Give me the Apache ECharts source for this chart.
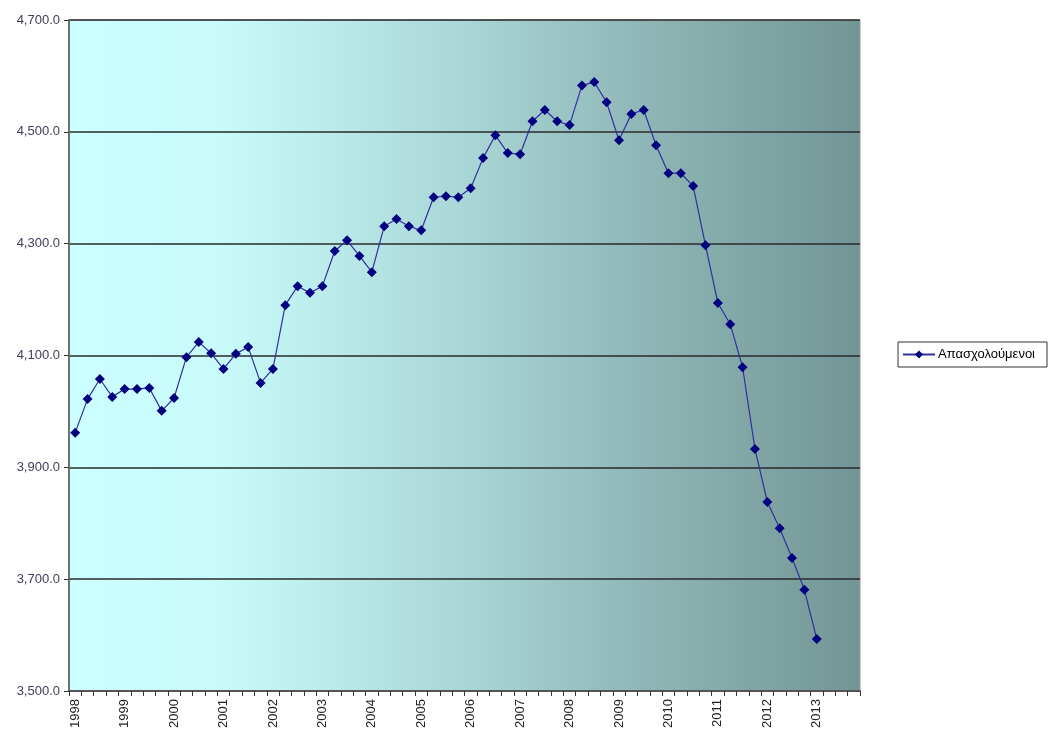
<!DOCTYPE html>
<html>
<head>
<meta charset="utf-8">
<script src="https://cdn.jsdelivr.net/npm/echarts@6/dist/echarts.min.js"></script>
<style>
  html, body { margin: 0; padding: 0; background: #ffffff; }
  #chart { width: 1051px; height: 736px; }
</style>
</head>
<body>
<div id="chart"></div>
<script>
// Quarterly periods 1998 Q1 – 2013 Q4 (the last quarters are still empty)
const years = ['1998','1999','2000','2001','2002','2003','2004','2005',
               '2006','2007','2008','2009','2010','2011','2012','2013'];
const quarters = ['Q1','Q2','Q3','Q4'];

// Employed persons (thousands), one value per quarter
const employed = [
  3962, 4022, 4058, 4026,   // 1998
  4040, 4040, 4042, 4001,   // 1999
  4024, 4097, 4124, 4104,   // 2000
  4076, 4103, 4115, 4051,   // 2001
  4076, 4190, 4224, 4212,   // 2002
  4224, 4287, 4306, 4278,   // 2003
  4249, 4331, 4344, 4331,   // 2004
  4324, 4383, 4385, 4383,   // 2005
  4399, 4453, 4494, 4462,   // 2006
  4460, 4519, 4539, 4519,   // 2007
  4512, 4583, 4589, 4553,   // 2008
  4485, 4532, 4539, 4476,   // 2009
  4426, 4426, 4403, 4297,   // 2010
  4194, 4156, 4079, 3933,   // 2011
  3838, 3791, 3738, 3681,   // 2012
  3593                      // 2013
];

const seriesName = 'Απασχολούμενοι';

const categories = [];
years.forEach(y => quarters.forEach(q => categories.push(y + ' ' + q)));

const chart = echarts.init(document.getElementById('chart'));

const fmt = v => v.toLocaleString('en-US', { minimumFractionDigits: 1, maximumFractionDigits: 1 });

chart.setOption({
  animation: false,
  textStyle: { fontFamily: 'Liberation Sans, Arial, sans-serif' },
  grid: {
    left: 69, right: 191, top: 20, bottom: 45,
    show: true,
    borderColor: '#9a9a9a',
    borderWidth: 1,
    backgroundColor: new echarts.graphic.LinearGradient(0, 0, 1, 0, [
      { offset: 0.0, color: '#ccffff' },
      { offset: 0.2, color: '#c8fafa' },
      { offset: 0.5, color: '#a9d6d6' },
      { offset: 0.75, color: '#8db3b3' },
      { offset: 1.0, color: '#739595' }
    ])
  },
  legend: {
    left: 898, top: 342,
    orient: 'vertical',
    data: [seriesName],
    backgroundColor: '#ffffff',
    borderColor: '#333333',
    borderWidth: 1,
    borderRadius: 0,
    padding: [6, 12, 6, 4],
    itemWidth: 32,
    itemHeight: 10,
    itemGap: 0,
    textStyle: { fontSize: 13, color: '#000000', padding: [0, 0, 0, -2] }
  },
  xAxis: {
    type: 'category',
    data: categories,
    boundaryGap: true,
    axisLine: { lineStyle: { color: '#555555', width: 2 } },
    axisTick: { show: true, interval: 0, length: 5, lineStyle: { color: '#333333' } },
    axisLabel: {
      interval: 3,
      rotate: 90,
      margin: 8,
      fontSize: 13,
      color: '#222222',
      formatter: v => v.split(' ')[0]
    },
    splitLine: { show: false }
  },
  yAxis: {
    type: 'value',
    min: 3500,
    max: 4700,
    interval: 200,
    axisLine: { show: true, lineStyle: { color: '#707070', width: 2 } },
    axisTick: { show: true, length: 5, lineStyle: { color: '#333333' } },
    axisLabel: { fontSize: 13, color: '#3d3d5c', margin: 9, formatter: fmt },
    splitLine: { show: true, lineStyle: { color: '#2a2a2a', width: 1.5 } }
  },
  series: [{
    name: seriesName,
    type: 'line',
    data: employed,
    symbol: 'diamond',
    symbolSize: 10,
    showSymbol: true,
    showAllSymbol: true,
    itemStyle: { color: '#000080' },
    lineStyle: { color: '#3030a0', width: 1.2 }
  }]
});
</script>
</body>
</html>
